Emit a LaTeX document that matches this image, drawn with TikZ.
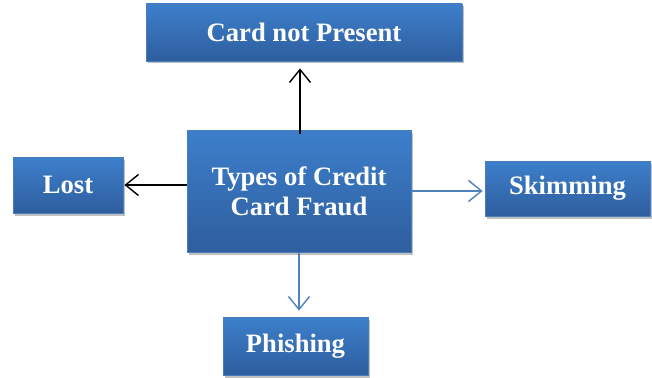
\documentclass[tikz,border=0pt]{standalone}
\usepackage{fontspec}
\setmainfont{Liberation Serif}
\usetikzlibrary{arrows.meta,shadows,calc}
\definecolor{boxtop}{HTML}{3D7FCB}
\definecolor{boxbot}{HTML}{2E5E9E}
\definecolor{boxline}{HTML}{4A7EBB}
\definecolor{linkblue}{HTML}{4F81BD}
\tikzset{
  fraudbox/.style={rectangle, draw=boxline, line width=0.8pt,
    top color=boxtop, bottom color=boxbot,
    text=white, font=\fontsize{26.6}{30}\selectfont\bfseries, align=center,
    drop shadow={opacity=0.35, shadow xshift=1.5pt, shadow yshift=-2.5pt, fill=black!70}},
  blacklink/.style={draw=black, line width=1.4pt, -{Straight Barb[length=13pt,width=21pt,line width=1.4pt]}},
  bluelink/.style={draw=linkblue, line width=1.4pt, -{Straight Barb[length=13pt,width=21pt,line width=1.4pt]}}
}
\begin{document}
\begin{tikzpicture}[x=1pt,y=-1pt]
\useasboundingbox[fill=white] (0,0) rectangle (652,377);

\node[fraudbox, minimum width=316pt, minimum height=57pt] (cnp) at (304,32.5) {Card not Present};
\node[fraudbox, minimum width=110pt, minimum height=56pt] (lost) at (68,185) {Lost};
\node[fraudbox, minimum width=224pt, minimum height=122pt] (main) at (299,191) {Types of Credit\\Card Fraud};
\node[fraudbox, minimum width=165pt, minimum height=55pt] (skim) at (567.5,188.5) {Skimming};
\node[fraudbox, minimum width=145pt, minimum height=58pt] (phish) at (295.5,346) {Phishing};

% connectors from the central box
\draw[blacklink, shorten >=7pt] ($(main.north)+(1,4)$) -- ($(main.north |- cnp.south)+(1,0)$);
\draw[blacklink, shorten >=1pt] (main.west |- lost.east) -- (lost.east);
\draw[bluelink, shorten >=2pt] (main.east) -- (main.east -| skim.west);
\draw[bluelink, shorten >=6pt] (main.south) -- (main.south |- phish.north);
\end{tikzpicture}
\end{document}
